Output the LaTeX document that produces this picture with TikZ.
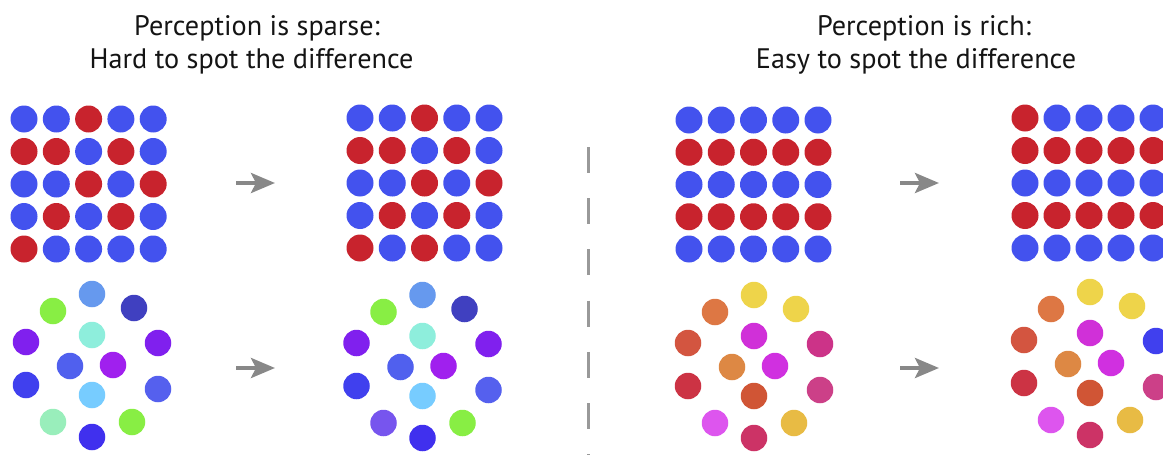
\documentclass[tikz,border=0pt]{standalone}
\usepackage{fontspec}
\setmainfont{PT Sans}
\usetikzlibrary{arrows.meta}
\definecolor{dB}{HTML}{4352EE}
\definecolor{dR}{HTML}{C8232D}
\definecolor{arrowgray}{HTML}{888888}
\definecolor{dashgray}{HTML}{999999}
\definecolor{titlecol}{HTML}{141414}
\tikzset{
  dot/.style={circle,inner sep=0pt,minimum size=27pt,draw=none},
  title/.style={anchor=base,font=\fontsize{28.2}{32}\selectfont,text=titlecol,inner sep=0pt},
  bigarrow/.style={draw=arrowgray,line width=4pt,-{Stealth[length=24pt,width=20pt,inset=5pt]}},
  divider/.style={draw=dashgray,line width=3pt,dash pattern=on 26pt off 25.2pt}
}
% #1 name, #2 x0, #3 y0, #4 dx, #5 dy, #6 colours (25)
\newcommand\dotgrid[6]{%
  \foreach \c [count=\k from 0] in {#6} {
    \pgfmathtruncatemacro\rr{int(\k/5)}
    \pgfmathtruncatemacro\cc{mod(\k,5)}
    \node[dot,fill=\c] (#1-\k) at ({#2+\cc*#4},{#3+\rr*#5}) {};
  }}
% #1 name, #2 dx, #3 dy, #4 hex colours (14)
\newcommand\scatter[4]{%
  \foreach \px/\py [count=\k] in {92/294,53/311,134/308,92/335,26/342,158/343,70/366,113/365,26/385,158/389,92/395,53/422,132/422,92/437} {
    \pgfmathsetmacro\hx{{#4}[\k-1]}
    \definecolor{tmpc}{HTML}{\hx}
    \node[dot,minimum size=26.5pt,fill=tmpc] (#1-\k) at ({\px+#2},{\py+#3}) {};
  }}
\begin{document}
\begin{tikzpicture}[x=1pt,y=-1pt]
\useasboundingbox (0,0) rectangle (1163,455);
% titles
\node[title] (t1a) at (257,35) {Perception is sparse:};
\node[title] (t1b) at (251.5,68) {Hard to spot the difference};
\node[title] (t2a) at (924,35) {Perception is rich:};
\node[title] (t2b) at (916,68) {Easy to spot the difference};
% grids
\dotgrid{g1}{24}{119}{32.3}{32.5}{dB,dB,dR,dB,dB, dR,dR,dB,dR,dB, dB,dB,dR,dB,dR, dB,dR,dB,dR,dB, dR,dB,dB,dB,dB}
\dotgrid{g2}{360}{118}{32.25}{32.5}{dB,dB,dR,dB,dB, dR,dR,dB,dR,dB, dB,dB,dR,dB,dR, dB,dR,dB,dR,dB, dR,dB,dR,dB,dB}
\dotgrid{g3}{689}{120}{32.25}{32.25}{dB,dB,dB,dB,dB, dR,dR,dR,dR,dR, dB,dB,dB,dB,dB, dR,dR,dR,dR,dR, dB,dB,dB,dB,dB}
\dotgrid{g4}{1025}{118}{32}{32.5}{dR,dB,dB,dB,dB, dR,dR,dR,dR,dR, dB,dB,dB,dB,dB, dR,dR,dR,dR,dR, dB,dB,dB,dB,dB}
% scatters
\scatter{s1}{0}{0}{"6699EE","88EE44","4040C0","8EEEDC","8020EE","8020EE","5060EE","A020EE","4040EE","5560EE","77CCFF","99EEBB","88EE44","4030EE"}
\scatter{s2}{330.5}{1}{"6699EE","88EE44","4040C0","8EEEDC","8020EE","8020EE","5060EE","A020EE","4040EE","5560EE","77CCFF","7755EE","88EE44","4030EE"}
\scatter{s3}{662}{1}{"EED44A","DD7744","EED44A","D030D8","D35540","CC3388","DD8844","D030E0","CC3344","CC4088","D05535","DD55EE","E8BB44","CC3366"}
\scatter{s4}{998}{-2}{"EED44A","DD7744","EED44A","D030D8","D35540","4040EE","DD8844","D030E0","CC3344","CC4088","D05535","DD55EE","E8BB44","CC3366"}
% arrows
\coordinate (a1s) at (236,183); \coordinate (a1e) at (275,183);
\coordinate (a2s) at (236,368); \coordinate (a2e) at (275,368);
\coordinate (a3s) at (900,183); \coordinate (a3e) at (939,183);
\coordinate (a4s) at (900,368); \coordinate (a4e) at (939,368);
\draw[bigarrow] (a1s) -- (a1e);
\draw[bigarrow] (a2s) -- (a2e);
\draw[bigarrow] (a3s) -- (a3e);
\draw[bigarrow] (a4s) -- (a4e);
% divider
\coordinate (dtop) at (588,147); \coordinate (dbot) at (588,470);
\draw[divider] (dtop) -- (dbot);
\end{tikzpicture}
\end{document}
